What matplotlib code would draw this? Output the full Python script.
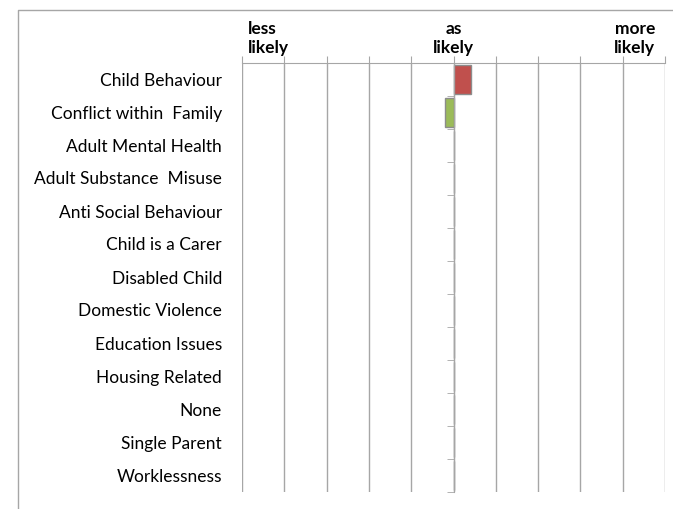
import numpy as np
import matplotlib.pyplot as plt
from matplotlib.lines import Line2D
from matplotlib.transforms import blended_transform_factory

categories = ['Child Behaviour', 'Conflict within  Family', 'Adult Mental Health',
              'Adult Substance  Misuse', 'Anti Social Behaviour', 'Child is a Carer',
              'Disabled Child', 'Domestic Violence', 'Education Issues',
              'Housing Related', 'None', 'Single Parent', 'Worklessness']
values = [0.085, -0.04, 0, 0, 0, 0, 0, 0, 0, 0, 0, 0, 0]
bar_colors = ['#C0504D', '#9BBB59'] + ['#C0504D'] * 11
header_labels = ['less\nlikely', 'as\nlikely', 'more\nlikely']

plt.rcParams['font.family'] = ['Lato', 'DejaVu Sans']
W, H = 673, 510
fig = plt.figure(figsize=(W / 100, H / 100), dpi=100)
grid_c = '#A6A6A6'

# outer frame (left and top only visible)
fig.add_artist(Line2D([18 / W, 18 / W, 1], [0, 1 - 11 / H, 1 - 11 / H],
                      transform=fig.transFigure, color=grid_c, lw=1))

ax = fig.add_axes([242 / W, 1 - 493 / H, (665 - 242) / W, (493 - 64) / H])
y = np.arange(len(categories))
ax.barh(y, values, height=0.9, color=bar_colors, edgecolor='#8C8C8C', lw=1, zorder=3)

ax.set_xlim(-1, 1)
ax.set_ylim(len(categories) - 0.5, -0.5)
ax.set_xticks(np.linspace(-1, 1, 11))
ax.xaxis.tick_top()
ax.tick_params(axis='x', which='major', length=5, color=grid_c, labeltop=False, labelbottom=False)
ax.grid(axis='x', color=grid_c, lw=1, zorder=1)

for s in ['bottom', 'right']:
    ax.spines[s].set_visible(False)
ax.spines['top'].set_color(grid_c)
ax.spines['left'].set_position(('data', 0))
ax.spines['left'].set_color(grid_c)
ax.spines['left'].set_zorder(4)
ax.set_yticks([])
ax.set_yticks(np.arange(-0.5, len(categories), 1), minor=True)
ax.tick_params(axis='y', which='minor', length=5, color=grid_c, labelleft=False)

trans = blended_transform_factory(ax.transAxes, ax.transData)
for i, c in enumerate(categories):
    ax.text(-20 / 423, i, c, transform=trans, ha='right', va='center', fontsize=12.5)

xt = blended_transform_factory(ax.transData, ax.transAxes)
hdr = dict(transform=xt, va='bottom', fontsize=12.5, fontweight='bold', linespacing=1.25)
ax.text(-0.97, 1.018, header_labels[0], ha='left', **hdr)
ax.text(0, 1.018, header_labels[1], ha='center', multialignment='center', **hdr)
ax.text(0.953, 1.018, header_labels[2], ha='right', multialignment='right', **hdr)

fig.savefig('out.png', dpi=100)
